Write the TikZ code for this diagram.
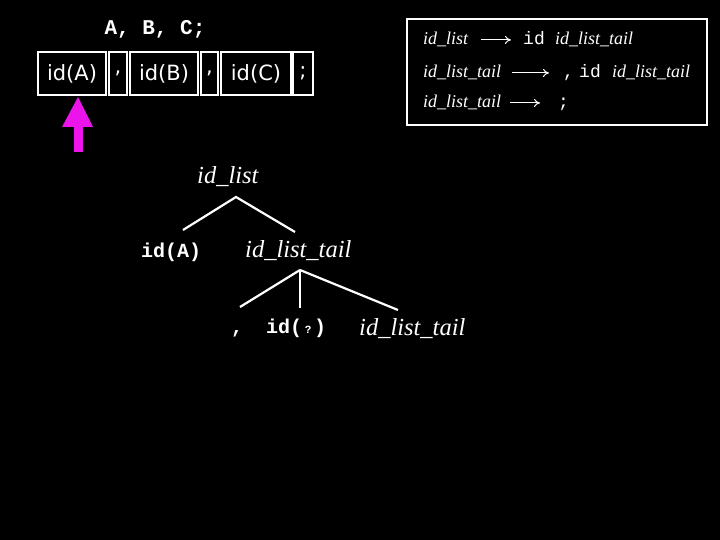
\documentclass[tikz,border=0pt]{standalone}
\usepackage{fontspec}
\usetikzlibrary{arrows.meta}
\newfontfamily\serifit{Liberation Serif}
\newfontfamily\mono{Liberation Mono}
\newfontfamily\cellfont{DejaVu Sans}
\definecolor{mag}{RGB}{235,20,235}
\begin{document}
\begin{tikzpicture}[x=1pt,y=-1pt,
  cell/.style={draw=white, line width=2.2pt, text=white, minimum height=43pt, inner sep=0pt,
    font=\cellfont\fontsize{21}{21}\selectfont},
  gi/.style={anchor=base west, inner sep=0pt, text=white, font=\serifit\itshape\fontsize{18}{18}\selectfont},
  gt/.style={anchor=base west, inner sep=0pt, text=white, font=\mono\fontsize{18}{18}\selectfont},
  ti/.style={anchor=base west, inner sep=0pt, text=white, font=\serifit\itshape\fontsize{24.5}{24.5}\selectfont},
  tt/.style={anchor=base west, inner sep=0pt, text=white, font=\mono\bfseries\fontsize{20}{20}\selectfont},
  edge/.style={white, line width=2.2pt},
  garrow/.style={white, line width=1pt, -{To[length=6pt,width=8pt]}}]
\fill[black] (0,0) rectangle (720,540);
\useasboundingbox (0,0) rectangle (720,540);

% source text
\node[tt, anchor=base, font=\mono\bfseries\fontsize{21}{21}\selectfont] (src) at (155,35) {A, B, C;};

% token cells
\node[cell, minimum width=68pt] (c1) at (72,73.5) {id(A)};
\node[cell, minimum width=18pt] (c2) at (118,73.5) {,};
\node[cell, minimum width=68pt] (c3) at (164,73.5) {id(B)};
\node[cell, minimum width=17pt] (c4) at (209.5,73.5) {,};
\node[cell, minimum width=70pt] (c5) at (256,73.5) {id(C)};
\node[cell, minimum width=20pt] (c6) at (303,73.5) {;};

% magenta pointer
\fill[mag] (78,97) -- (93,127) -- (62,127) -- cycle;
\fill[mag] (73.5,126) rectangle (82.5,152);

% grammar box
\draw[white, line width=2pt] (407,19) rectangle (707,125);
\node[gi] (g1a) at (423,45) {id\_list};
\node[gt] (g1b) at (523,45) {id};
\node[gi] (g1c) at (555,45) {id\_list\_tail};
\draw[garrow, shorten <=13pt, shorten >=12pt] (g1a.east) -- (g1a.east -| g1b.west);

\node[gi] (g2a) at (423,78) {id\_list\_tail};
\node[gt] (g2b) at (563,78) {,};
\node[gt] (g2c) at (579,78) {id};
\node[gi] (g2d) at (612,78) {id\_list\_tail};
\draw[garrow, shorten <=11pt, shorten >=14pt] (g2a.east) -- (g2a.east -| g2b.west);

\node[gi] (g3a) at (423,108) {id\_list\_tail};
\node[gt] (g3b) at (558,108) {;};
\draw[garrow, shorten <=9pt, shorten >=18pt] (g3a.east) -- (g3a.east -| g3b.west);

% parse tree
\node[ti] (top) at (197,184) {id\_list};
\node[tt] (ida) at (141,257) {id(A)};
\node[ti] (tail1) at (245,258) {id\_list\_tail};
\node[tt] (comma) at (231,333) {,};
\node[tt] (idq) at (266,333) {id(\makebox[12pt]{\fontsize{11}{11}\selectfont ?})};
\node[ti] (tail2) at (359,335) {id\_list\_tail};

\coordinate (r0) at (236,197);
\coordinate (r1) at (183,230);
\coordinate (r2) at (295,232);
\coordinate (s0) at (300,270);
\coordinate (s1) at (240,307);
\coordinate (s2) at (300,308);
\coordinate (s3) at (398,310);
\draw[edge] (r1) -- (r0) -- (r2);
\draw[edge] (s0) -- (s1);
\draw[edge] (s0) -- (s2);
\draw[edge] (s0) -- (s3);
\end{tikzpicture}
\end{document}
